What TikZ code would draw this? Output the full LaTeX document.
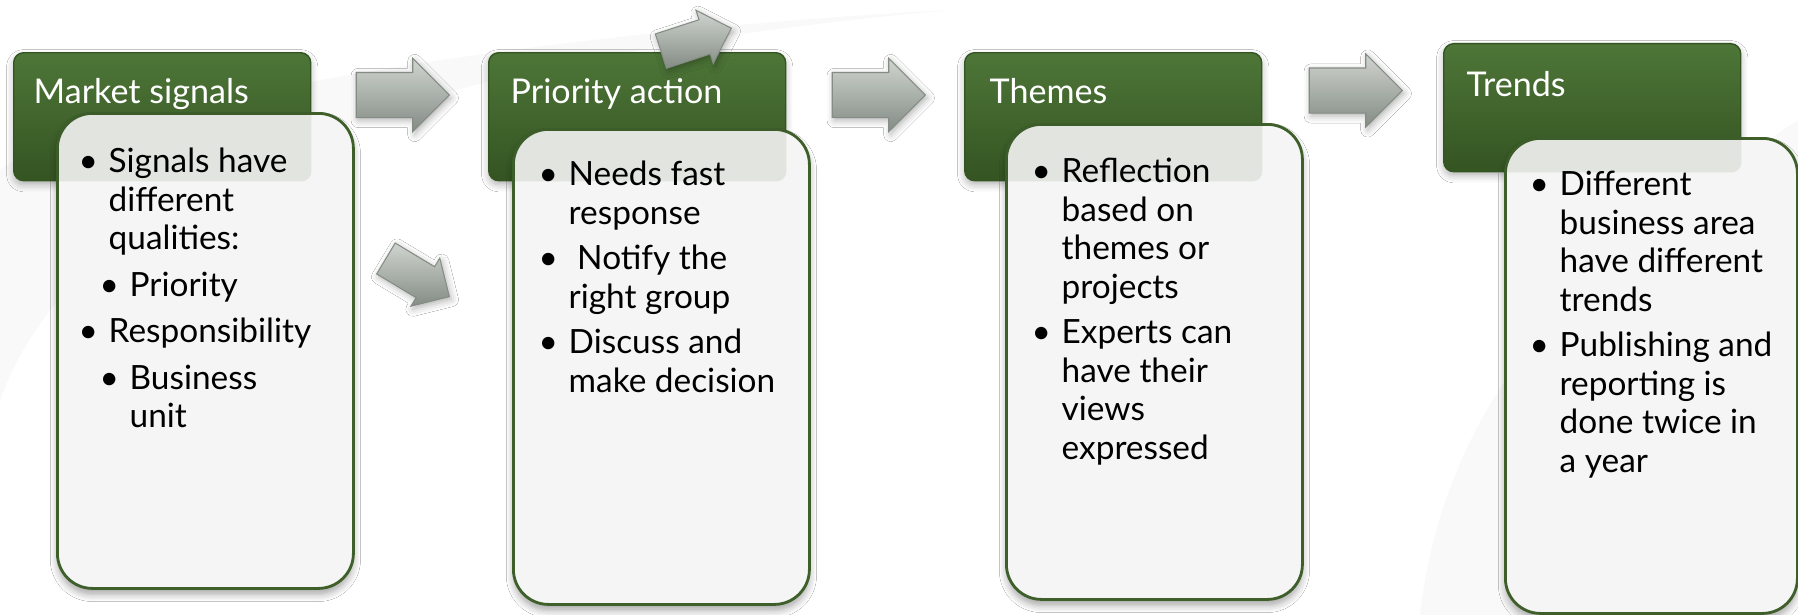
\documentclass[tikz,border=0pt]{standalone}
\usepackage{fontspec}
\setmainfont{Lato}
\usetikzlibrary{positioning,calc,shapes.arrows,shadows.blur}

\definecolor{hdrlight}{RGB}{78,118,56}
\definecolor{hdrdark}{RGB}{52,84,34}
\definecolor{boxline}{RGB}{62,94,42}
\definecolor{boxfill}{RGB}{245,245,245}
\definecolor{arrlight}{RGB}{208,212,208}
\definecolor{arrdark}{RGB}{132,140,132}
\definecolor{swoosh}{RGB}{238,238,238}

\newcommand{\blt}{\makebox[0.21cm][l]{\hspace*{-0.09cm}\textbullet}}
\newcommand{\ind}{\hspace*{0.21cm}}
\newcommand{\firstline}{\rule{0pt}{0.27cm}}

\tikzset{
  hdr/.style={rectangle, rounded corners=0.1cm, minimum width=2.97cm,
    minimum height=1.28cm, anchor=north west, inner sep=0pt,
    top color=hdrlight, bottom color=hdrdark, draw=hdrdark, line width=0.4pt,
    blur shadow={shadow xshift=0pt, shadow yshift=-0.04cm, shadow blur steps=6, shadow opacity=30}},
  ttl/.style={anchor=base west, inner sep=0pt, text=white,
    font=\fontsize{9.7pt}{12pt}\selectfont},
  bodybox/.style={rectangle, rounded corners=0.35cm, minimum width=2.96cm,
    minimum height=4.75cm, anchor=north west, inner sep=0pt,
    fill=boxfill, draw=boxline, line width=0.8pt,
    blur shadow={shadow xshift=0pt, shadow yshift=-0.06cm, shadow blur steps=6, shadow opacity=35}},
  seethru/.style={hdrdark, opacity=0.1, rounded corners=0.1cm},
  bodytxt/.style={anchor=north west, inner sep=0pt, align=left,
    font=\fontsize{9.5pt}{10.95pt}\selectfont},
  bigarrow/.style={single arrow, single arrow head extend=0.14cm,
    minimum height=0.93cm, inner sep=0pt, anchor=tip,
    top color=arrlight, bottom color=arrdark, draw=arrdark, line width=0.3pt,
    blur shadow={shadow xshift=0.02cm, shadow yshift=-0.03cm, shadow blur steps=4, shadow opacity=30}},
  smallarrow/.style={bigarrow, single arrow head extend=0.10cm, minimum height=0.74cm}
}

\begin{document}
\begin{tikzpicture}
  \useasboundingbox (0,0) rectangle (17.98,-6.15);
  % background
  \fill[white] (0,0) rectangle (17.98,-6.15);
  \fill[swoosh, opacity=0.35] (0,-1.7) .. controls (0.5,-1.3) and (4,-0.4) .. (9.5,-0.1)
    .. controls (4,-0.6) and (0.8,-1.8) .. (0,-4.0) -- cycle;
  \fill[swoosh, opacity=0.3] (17.98,-1.2) .. controls (16.5,-2.2) and (14.5,-3.5) .. (14.2,-6.15)
    -- (15.2,-6.15) .. controls (15.3,-4.0) and (16.6,-2.6) .. (17.98,-2.0) -- cycle;

  % green headers
  \node[hdr] (hdr1) at (0.13,-0.52) {};
  \node[hdr] (hdr2) at (4.88,-0.52) {};
  \node[hdr] (hdr3) at (9.64,-0.52) {};
  \node[hdr] (hdr4) at (14.43,-0.43) {};
  \node[ttl] (ttl1) at ([xshift=0.20cm,yshift=-0.51cm]hdr1.north west) {Market signals};
  \node[ttl] (ttl2) at ([xshift=0.22cm,yshift=-0.51cm]hdr2.north west) {Priority action};
  \node[ttl] (ttl3) at ([xshift=0.25cm,yshift=-0.51cm]hdr3.north west) {Themes};
  \node[ttl] (ttl4) at ([xshift=0.23cm,yshift=-0.54cm]hdr4.north west) {Trends};

  % white boxes, the header shows faintly through them
  \node[bodybox] (box1) at (0.56,-1.12) {};
  \node[bodybox] (box2) at (5.12,-1.28) {};
  \node[bodybox] (box3) at (10.05,-1.23) {};
  \node[bodybox, minimum width=2.92cm] (box4) at (15.04,-1.37) {};
  \foreach \n in {1,2,3,4}
  {
    \begin{scope}
      \clip[rounded corners=0.35cm] (box\n.north west) rectangle (box\n.south east);
      \fill[seethru] (hdr\n.north west) rectangle (hdr\n.south east);
    \end{scope}
  }

  \node[bodytxt] (txt1) at ([xshift=0.31cm,yshift=-0.33cm]box1.north west)
    {\firstline\blt Signals have\\ \ind different\\ \ind qualities:\\[0.08cm]
     \ind\blt Priority\\[0.08cm] \blt Responsibility\\[0.08cm]
     \ind\blt Business\\ \ind\ind unit};
  \node[bodytxt] (txt2) at ([xshift=0.35cm,yshift=-0.30cm]box2.north west)
    {\firstline\blt Needs fast\\ \ind response\\[0.07cm] \blt\ Notify the\\ \ind right group\\[0.07cm]
     \blt Discuss and\\ \ind make decision};
  \node[bodytxt] (txt3) at ([xshift=0.35cm,yshift=-0.32cm]box3.north west)
    {\firstline\blt Reflection\\ \ind based on\\ \ind themes or\\ \ind projects\\[0.07cm]
     \blt Experts can\\ \ind have their\\ \ind views\\ \ind expressed};
  \node[bodytxt] (txt4) at ([xshift=0.34cm,yshift=-0.31cm]box4.north west)
    {\firstline\blt Different\\ \ind business area\\ \ind have different\\ \ind trends\\[0.07cm]
     \blt Publishing and\\ \ind reporting is\\ \ind done twice in\\ \ind a year};

  % arrows, placed by their tips
  \node[bigarrow] (arr1) at (4.50,-0.95) {\rule{0pt}{0.44cm}};
  \node[bigarrow] (arr2) at (9.26,-0.95) {\rule{0pt}{0.44cm}};
  \node[bigarrow] (arr3) at (14.03,-0.905) {\rule{0pt}{0.44cm}};
  \node[smallarrow, rotate=18] (arrup) at (7.32,-0.28) {\rule{0pt}{0.35cm}};
  \node[smallarrow, rotate=-31] (arrdown) at (4.50,-2.97) {\rule{0pt}{0.35cm}};
\end{tikzpicture}
\end{document}
